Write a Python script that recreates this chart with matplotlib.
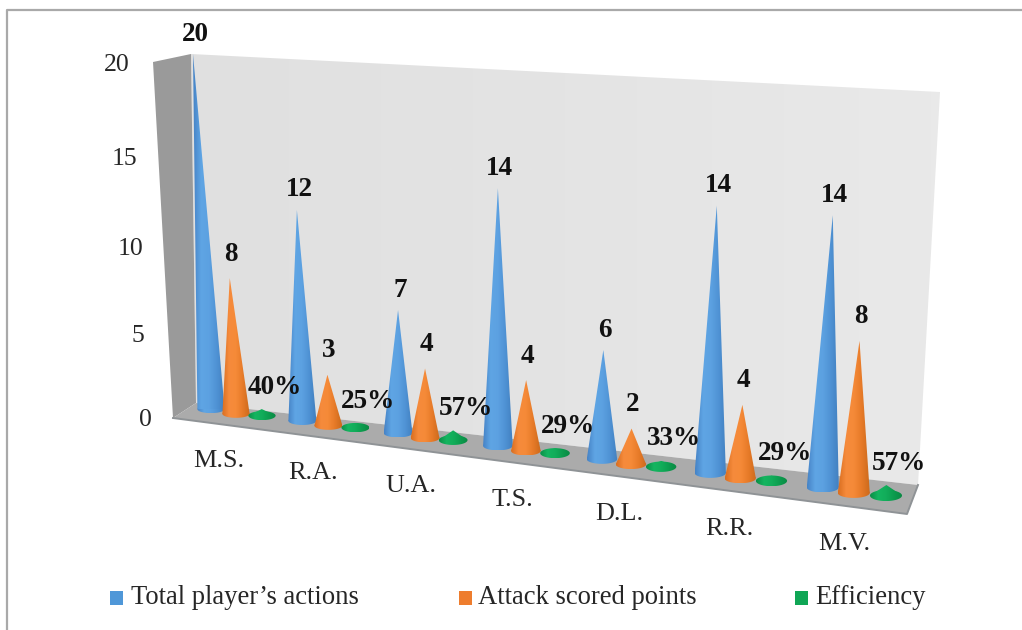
import numpy as np
import matplotlib
matplotlib.use('Agg')
import matplotlib.pyplot as plt
from matplotlib.colors import LinearSegmentedColormap
from matplotlib.patches import Polygon, Rectangle

plt.rcParams['font.family'] = ['Liberation Serif', 'DejaVu Serif']

# Data
players = ['M.S.', 'R.A.', 'U.A.', 'T.S.', 'D.L.', 'R.R.', 'M.V.']
total_actions = [20, 12, 7, 14, 6, 14, 14]
attack_points = [8, 3, 4, 4, 2, 4, 8]
efficiency = [0.40, 0.25, 0.57, 0.29, 0.33, 0.29, 0.57]
y_ticks = [0, 5, 10, 15, 20]
legend_labels = ['Total player\u2019s actions', 'Attack scored points', 'Efficiency']

blue_map = LinearSegmentedColormap.from_list('b', ['#4683c6', '#5fa5e4', '#5ca1e1', '#4f92d4', '#4280c0'])
orange_map = LinearSegmentedColormap.from_list('o', ['#d96e20', '#f68b3c', '#f58a38', '#e67a28', '#cc6a1c'])
green_map = LinearSegmentedColormap.from_list('g', ['#0b8f47', '#14b560', '#12ad5a', '#0c9c4e', '#0a8a44'])
wall_map = LinearSegmentedColormap.from_list('w', ['#e0e0e0', '#e4e4e4', '#e9e9e9'])
text_color = '#262626'


# The chart is a fake 3D view, so everything goes through these small projection helpers
def value_height(v, i=0):
    return (16.45 * v + 0.065 * v ** 2) * (1 + 0.02 * i)


def cone_x(i, offset):
    return 211 + 89.3 * i + 2.11 * i ** 2 + offset * (1 + 0.04 * i)


def floor_y(x):
    return 409 + 0.128 * (x - 210)


def lean(x, v):
    return v * np.interp(x, [211, 398, 498, 825], [-0.9, 0, 0, 0.72])


def shaded(ax, pts, cmap):
    pts = np.array(pts)
    patch = Polygon(pts, closed=True, transform=ax.transData, fc='none', ec='none')
    ax.add_patch(patch)
    extent = [pts[:, 0].min(), pts[:, 0].max(), pts[:, 1].max(), pts[:, 1].min()]
    im = ax.imshow(np.linspace(0, 1, 64).reshape(1, -1), cmap=cmap, extent=extent, aspect='auto',
                   vmin=0, vmax=1, interpolation='bilinear', zorder=patch.get_zorder())
    im.set_clip_path(patch)
    return im


def draw_cone(ax, i, offset, v, cmap, dy=0.0, minor=4.0):
    bx = cone_x(i, offset)
    by = floor_y(bx) + dy
    w = 13.6 + 0.4 * i
    h = minor + 0.17 * i
    tx = bx + lean(bx, v)
    ty = by - value_height(v, i)
    t = np.linspace(0, 2 * np.pi, 60)
    shaded(ax, np.c_[bx + w * np.cos(t), by + h * np.sin(t)], cmap)
    shaded(ax, [(bx - w, by), (tx, ty), (bx + w, by)], cmap)
    return tx, ty


fig = plt.figure(figsize=(10.22, 6.3), dpi=100, facecolor='white')
ax = fig.add_axes([0, 0, 1, 1])

# Outer frame of the screenshot
ax.plot([7, 7, 1022], [630, 10, 10], color='#a9a9a9', lw=1.6, zorder=1)

# Walls and floor
shaded(ax, [(191, 54), (940, 92), (918, 485), (196, 403)], wall_map)
ax.add_patch(Polygon([(153, 62), (191, 54), (196, 403), (173, 418)], fc='#9a9a9a', ec='none'))
ax.add_patch(Polygon([(196, 403), (918, 485), (907, 514), (173, 418)], fc='#ababab', ec='none'))
ax.plot([173, 907, 918], [418, 514, 485], color='#8f9396', lw=1.4)

# Tick labels
for v in y_ticks:
    ax.text(145 - 1.4 * v, 420 - value_height(v), str(v), fontsize=18.5, color=text_color,
            ha='center', va='center')

# Cones and their value labels
for i, name in enumerate(players):
    tx, ty = draw_cone(ax, i, 0, total_actions[i], blue_map)
    ax.text(tx + 2, ty - 20, str(total_actions[i]), fontsize=19.5, fontweight='bold',
            color='#111111', ha='center', va='center', zorder=6)
    tx, ty = draw_cone(ax, i, 25, attack_points[i], orange_map, dy=1.5)
    ax.text(tx + 1, ty - 24, str(attack_points[i]), fontsize=19.5, fontweight='bold',
            color='#111111', ha='center', va='center', zorder=6)
    tx, ty = draw_cone(ax, i, 51, efficiency[i], green_map, minor=4.5)
    ax.text(tx + 13, ty - 22, f'{round(efficiency[i] * 100)}%', fontsize=19.5, fontweight='bold',
            color='#111111', ha='center', va='center', zorder=6)
    bx = cone_x(i, 0)
    ax.text(bx + 8 + 2.3 * i, floor_y(bx) + 51.5 + 0.8 * i, name, fontsize=18.8, color=text_color,
            ha='center', va='center', zorder=6)

# Legend
legend_pos = [(110, 131), (459, 478), (795, 815)]
legend_colors = ['#4f97d8', '#ee7d2e', '#10a655']
for (sq_x, txt_x), c, label in zip(legend_pos, legend_colors, legend_labels):
    ax.add_patch(Rectangle((sq_x, 591), 13, 14, fc=c, ec='none'))
    ax.text(txt_x, 598, label, fontsize=19.2, color=text_color, ha='left', va='center')

ax.set_xlim(0, 1022)
ax.set_ylim(630, 0)
ax.axis('off')

plt.savefig('out.png', dpi=100)
